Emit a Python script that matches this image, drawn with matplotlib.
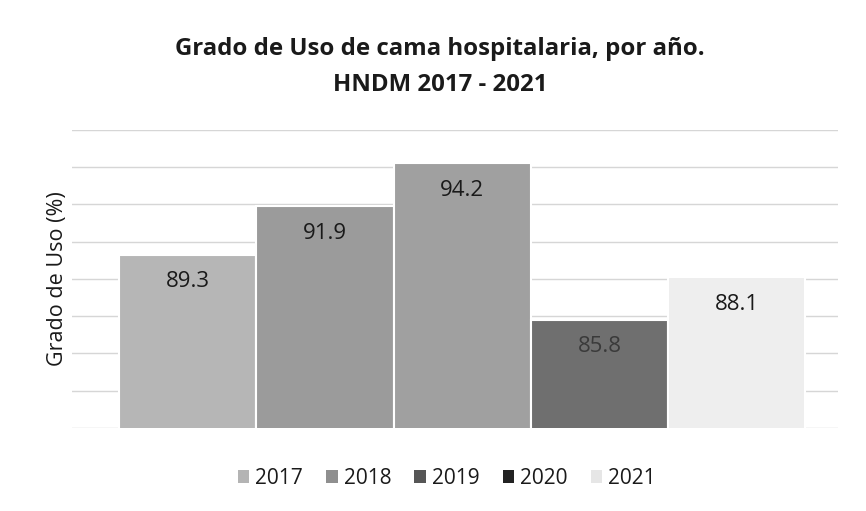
import matplotlib
matplotlib.use("Agg")
import matplotlib.pyplot as plt
from matplotlib.patches import Patch
import numpy as np

plt.rcParams["font.family"] = ["Open Sans", "DejaVu Sans"]

# datos
years = ["2017", "2018", "2019", "2020", "2021"]
grado_uso = [89.3, 91.9, 94.2, 85.8, 88.1]
colors = ["#b6b6b6", "#9b9b9b", "#a0a0a0", "#6f6f6f", "#eeeeee"]
legend_colors = ["#b4b4b4", "#8f8f8f", "#565656", "#222222", "#e6e6e6"]
label_colors = ["#1a1a1a", "#1a1a1a", "#1a1a1a", "#3a3a3a", "#1a1a1a"]

fig = plt.figure(figsize=(8.66, 5.11), dpi=100)
fig.patch.set_facecolor("white")
ax = fig.add_axes([0.083, 0.1624, 0.885, 0.5836])

x = np.arange(len(years))
bars = ax.bar(x, grado_uso, width=1.0, color=colors, zorder=2,
              edgecolor="white", linewidth=1.5)

for b, v, c in zip(bars, grado_uso, label_colors):
    ax.text(b.get_x() + b.get_width() / 2, v - 1.45, f"{v}", ha="center", va="center",
            fontsize=16, color=c, zorder=3)

ax.set_ylim(80, 96)
ax.set_yticks(np.arange(80, 97, 2))
ax.set_xlim(-0.843, 4.74)
ax.yaxis.grid(True, color="#d6d6d6", linewidth=1.0, zorder=0)
ax.tick_params(left=False, bottom=False, labelleft=False, labelbottom=False)
for s in ax.spines.values():
    s.set_visible(False)

ax.set_ylabel("Grado de Uso (%)", fontsize=15.5, color="#1a1a1a", labelpad=3)

fig.text(0.508, 0.905, "Grado de Uso de cama hospitalaria, por año.", ha="center",
         va="center", fontsize=17.3, fontweight="bold", color="#1a1a1a")
fig.text(0.508, 0.833, "HNDM 2017 - 2021", ha="center", va="center",
         fontsize=17.3, fontweight="bold", color="#1a1a1a")

handles = [Patch(facecolor=c, edgecolor="none") for c in legend_colors]
fig.legend(handles=handles, labels=years, loc="center", bbox_to_anchor=(0.516, 0.064),
           ncol=5, frameon=False, fontsize=15, handlelength=0.55, handleheight=0.55,
           handletextpad=0.3, columnspacing=1.1, labelcolor="#1a1a1a")

fig.savefig("out.png", dpi=100)
